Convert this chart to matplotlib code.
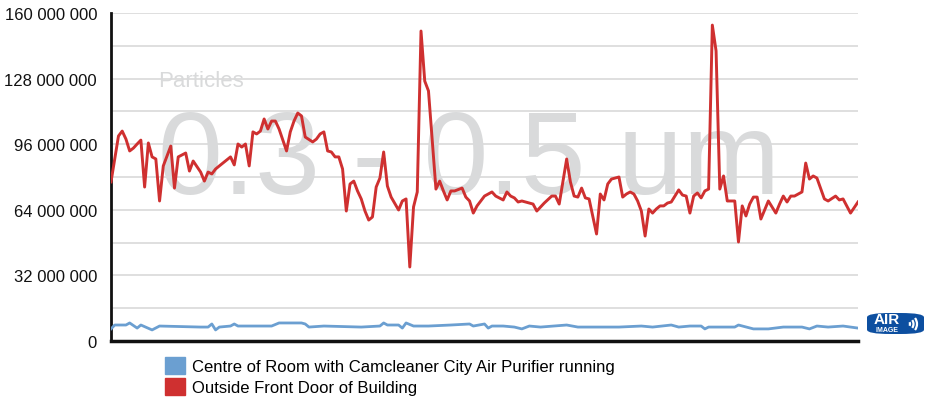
import numpy as np
import matplotlib
matplotlib.use("Agg")
import matplotlib.pyplot as plt
from matplotlib.patches import Patch, FancyBboxPatch, Arc

plt.rcParams['font.family'] = ['Liberation Sans', 'DejaVu Sans']

# red series: reading number and particle count (millions)
red_t = [0, 1, 2, 3, 4, 5, 6, 7, 8, 9, 10, 11, 12, 13, 14, 16, 17, 18, 20, 21,
         22, 24, 25, 26, 27, 28, 29, 31, 32, 33, 34, 35, 36, 37, 38, 39, 40, 41, 42, 43,
         44, 45, 47, 48, 49, 50, 51, 52, 54, 55, 56, 57, 58, 59, 60, 61, 62, 63, 64, 65,
         66, 67, 68, 69, 70, 71, 72, 73, 74, 75, 77, 78, 79, 80, 81, 82, 83, 84, 85, 87,
         88, 89, 90, 91, 92, 94, 95, 96, 97, 98, 99, 100, 102, 103, 105, 106, 107, 108, 109, 110,
         111, 113, 114, 116, 118, 119, 120, 122, 123, 124, 125, 126, 127, 128, 130, 131, 132, 133, 134, 136,
         137, 138, 139, 140, 141, 142, 143, 144, 145, 146, 147, 148, 149, 150, 151, 152, 153, 154, 155, 156,
         157, 158, 159, 160, 161, 162, 163, 164, 165, 167, 168, 169, 170, 171, 172, 173, 174, 176, 178, 179,
         180, 181, 182, 183, 185, 186, 187, 188, 189, 191, 192, 194, 195, 196, 198, 200]
red_vals = [77.6, 88.8, 100.0, 102.4, 98.5, 92.7, 94.1, 96.1, 98.0, 75.1, 96.6, 89.8, 88.8, 68.3, 85.4, 95.1, 74.6, 89.8, 91.7, 82.9,
            87.8, 82.4, 78.0, 82.4, 81.5, 83.9, 85.4, 88.3, 89.8, 85.9, 96.1, 94.6, 96.1, 85.4, 102.0, 101.0, 102.4, 108.3, 103.4, 107.3,
            107.3, 103.4, 92.7, 102.0, 107.3, 111.2, 109.8, 99.5, 97.1, 98.5, 101.0, 102.0, 92.7, 92.2, 89.8, 89.8, 83.9, 63.4, 76.6, 78.0,
            73.2, 69.3, 63.4, 59.0, 60.5, 75.1, 79.5, 92.2, 75.6, 70.2, 63.9, 68.3, 69.3, 36.1, 65.4, 72.7, 151.2, 126.8, 122.0, 74.1,
            78.0, 73.2, 68.8, 73.2, 73.2, 74.6, 70.2, 68.3, 62.4, 65.9, 68.3, 70.7, 72.7, 70.7, 68.8, 72.7, 70.7, 69.8, 67.8, 68.3,
            67.8, 66.8, 63.4, 67.3, 70.7, 70.7, 66.8, 88.8, 77.6, 70.7, 70.2, 74.6, 69.8, 69.3, 52.2, 71.7, 68.8, 76.6, 79.0, 80.0,
            70.2, 71.7, 72.7, 71.7, 68.3, 63.4, 51.2, 64.4, 62.4, 64.4, 65.9, 65.9, 67.3, 67.8, 70.7, 73.7, 71.2, 70.7, 62.4, 70.7,
            72.2, 69.8, 73.2, 74.1, 154.1, 141.5, 74.1, 80.5, 68.3, 68.3, 48.3, 65.9, 61.0, 66.8, 70.2, 70.2, 59.5, 68.3, 62.4, 66.8,
            70.7, 67.8, 70.7, 70.7, 72.7, 86.8, 79.0, 80.5, 79.5, 69.3, 68.3, 70.7, 68.8, 69.3, 62.4, 67.8]

# blue series: reading number and particle count (millions)
blue_t = [0, 1, 4, 5, 7, 8, 11, 13, 24, 26, 27, 28, 29, 32, 33, 34, 43, 45, 51, 52,
          53, 57, 67, 72, 73, 74, 77, 78, 79, 81, 85, 91, 96, 97, 100, 101, 102, 105, 108, 110,
          112, 115, 122, 125, 130, 136, 142, 145, 150, 152, 155, 158, 159, 160, 167, 168, 172, 176, 180, 185,
          187, 189, 192, 196, 200]
blue_vals = [5.9, 7.8, 7.8, 8.8, 6.3, 7.8, 5.4, 7.3, 6.8, 6.8, 8.3, 5.4, 6.8, 7.3, 8.3, 7.3, 7.3, 8.8, 8.8, 8.3,
             6.8, 7.3, 6.8, 7.3, 8.8, 7.8, 7.8, 6.3, 8.8, 7.3, 7.3, 7.8, 8.3, 7.3, 8.3, 6.3, 7.3, 7.3, 6.8, 5.9,
             7.3, 6.8, 7.8, 6.8, 6.8, 6.8, 7.3, 6.8, 7.8, 6.8, 7.3, 7.3, 5.9, 6.8, 6.8, 7.8, 5.9, 5.9, 6.8, 6.8,
             5.9, 7.3, 6.8, 7.3, 6.3]

series_names = ["Centre of Room with Camcleaner City Air Purifier running",
                "Outside Front Door of Building"]
blue_col = "#6b9fd1"
red_col = "#cf3030"
y_ticks = np.arange(0, 160e6 + 1, 16e6)

fig = plt.figure(figsize=(9.33, 4.02), dpi=100)
ax = fig.add_axes([111/933, 1 - 342/402, 747/933, 328/402])

ax.text(0.063, 0.793, "Particles", transform=ax.transAxes, fontsize=16,
        color="#d9dadb", ha="left", va="center")
ax.text(0.063, 0.45, "0.3 - 0.5 um", transform=ax.transAxes, fontsize=84,
        color="#d9dadb", ha="left", va="baseline")

ax.plot(blue_t, np.array(blue_vals) * 1e6, color=blue_col, lw=2.0, zorder=3)
ax.plot(red_t, np.array(red_vals) * 1e6, color=red_col, lw=2.1, zorder=4)

ax.set_xlim(0, 200)
ax.set_ylim(0, 160e6)
ax.set_xticks([])
ax.set_yticks(y_ticks)
ax.set_yticklabels([f"{int(v):,}".replace(",", " ") if i % 2 == 0 else ""
                    for i, v in enumerate(y_ticks)])
ax.tick_params(axis="y", length=0, pad=10, labelsize=12, labelcolor="#111111")
ax.grid(axis="y", color="#dcdcdc", lw=1.3)
ax.set_axisbelow(True)
for s in ["top", "right"]:
    ax.spines[s].set_visible(False)
ax.spines["left"].set_linewidth(2)
ax.spines["bottom"].set_linewidth(2.5)
ax.spines["left"].set_color("#111111")
ax.spines["bottom"].set_color("#111111")

handles = [Patch(color=blue_col), Patch(color=red_col)]
fig.legend(handles, series_names, loc="upper left",
           bbox_to_anchor=(165/933, 1 - 358/402), frameon=False, fontsize=12,
           handlelength=1.2, handleheight=1.2, labelspacing=0.2, handletextpad=0.45,
           borderaxespad=0, borderpad=0)

# small logo at the right
logo = FancyBboxPatch((867/933, 1 - 335/402), 57/933, 21/402,
                      boxstyle="round,pad=0,rounding_size=0.025",
                      transform=fig.transFigure, fc="#0d4fa0", ec="none",
                      mutation_aspect=402/933)
fig.patches.append(logo)
fig.text(887/933, 1 - 320/402, "AIR", color="white", fontsize=11,
         fontweight="bold", ha="center", va="center")
fig.text(887/933, 1 - 330.5/402, "IMAGE", color="white", fontsize=5,
         fontweight="bold", ha="center", va="center")
for r in [3, 6.5, 10]:
    fig.patches.append(Arc((907/933, 1 - 325/402), r * 2 / 933, r * 2 / 402,
                           theta1=-60, theta2=60, transform=fig.transFigure,
                           color="white", lw=1.6))

fig.savefig("out.png", dpi=100)
